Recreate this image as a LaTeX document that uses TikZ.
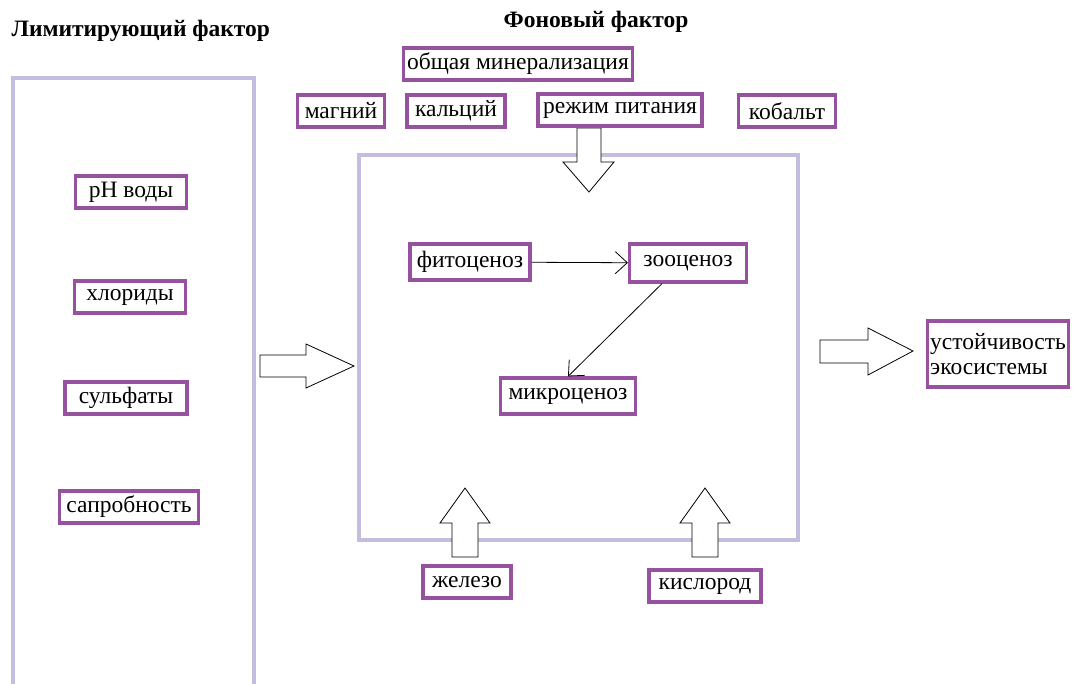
\documentclass[tikz,border=0pt]{standalone}
\usepackage{fontspec}
\setmainfont{Liberation Serif}
\usepackage{tikz}
\usetikzlibrary{arrows.meta}
\definecolor{boxline}{RGB}{150,82,158}
\definecolor{frameline}{RGB}{196,190,222}
\tikzstyle{box} = [draw=boxline,line width=3.2pt,fill=white,inner xsep=4pt,inner ysep=2pt,minimum height=32pt,font=\fontsize{23.5}{25}\selectfont]
\tikzstyle{frame} = [draw=frameline,line width=3.5pt]
\tikzstyle{title} = [font=\bfseries\fontsize{23.5}{25}\selectfont]
\tikzstyle{arrow} = [line width=0.8pt,-{Straight Barb[length=12pt,width=22pt]}]
\tikzstyle{fatarrow} = [draw=black,fill=white,line width=0.8pt]

\begin{document}
\begin{tikzpicture}[x=1pt,y=-1pt]
            \useasboundingbox (0,0) rectangle (1075,684);
            \fill[white] (0,0) rectangle (1075,684);
            % headings
            \node[title,anchor=west] (limtitle) at (8,31) {Лимитирующий фактор};
            \node[title] (bgtitle) at (596,22) {Фоновый фактор};
            % frames
            \draw[frame] (13,684) -- (13,78) -- (254,78) -- (254,684);
            \draw[frame] (359,155) rectangle (798,540);
            % wide arrows
            \draw[fatarrow] (260,355) -- (306,355) -- (306,344) -- (354,366) -- (306,388) -- (306,377) -- (260,377) -- cycle;
            \draw[fatarrow] (820,340) -- (868,340) -- (868,328) -- (913,351) -- (868,375) -- (868,363) -- (820,363) -- cycle;
            \draw[fatarrow] (577,128) -- (601,128) -- (601,162) -- (614,162) -- (589,192) -- (563,162) -- (577,162) -- cycle;
            \draw[fatarrow] (452,557) -- (452,523) -- (440,523) -- (465,488) -- (490,523) -- (478,523) -- (478,557) -- cycle;
            \draw[fatarrow] (692,557) -- (692,523) -- (680,523) -- (705,488) -- (730,523) -- (718,523) -- (718,557) -- cycle;
            % limiting factors
            \node[box,minimum width=111pt] (ph) at (131,192) {pH воды};
            \node[box,minimum width=111pt] (chlor) at (130,297) {хлориды};
            \node[box,minimum width=122pt] (sulf) at (126,398) {сульфаты};
            \node[box,minimum width=139pt] (sapro) at (129,507) {сапробность};
            % background factors
            \node[box,minimum width=224pt] (miner) at (518,64) {общая минерализация};
            \node[box,minimum width=87pt] (magn) at (341,111) {магний};
            \node[box,minimum width=98pt] (calc) at (456,111) {кальций};
            \node[box,minimum width=164pt] (feed) at (620,110) {режим питания};
            \node[box,minimum width=97pt] (cobalt) at (787,111) {кобальт};
            \node[box,minimum width=88pt] (iron) at (467,582) {железо};
            \node[box,minimum width=112pt] (oxyg) at (705,586) {кислород};
            % community
            \node[box,minimum width=120pt,minimum height=36pt] (phyto) at (470,262) {фитоценоз};
            \node[box,minimum width=117pt,minimum height=38pt] (zoo) at (688,263) {зооценоз};
            \node[box,minimum width=135pt,minimum height=36pt] (micro) at (568,396) {микроценоз};
            \draw[arrow] (phyto) -- (zoo);
            \draw[arrow] ([xshift=-26pt]zoo.south) -- (micro.north);
            % result
            \node[box,align=left,inner xsep=3pt,minimum height=66pt] (stab) at (998,354) {устойчивость\\экосистемы};
        \end{tikzpicture}
\end{document}
